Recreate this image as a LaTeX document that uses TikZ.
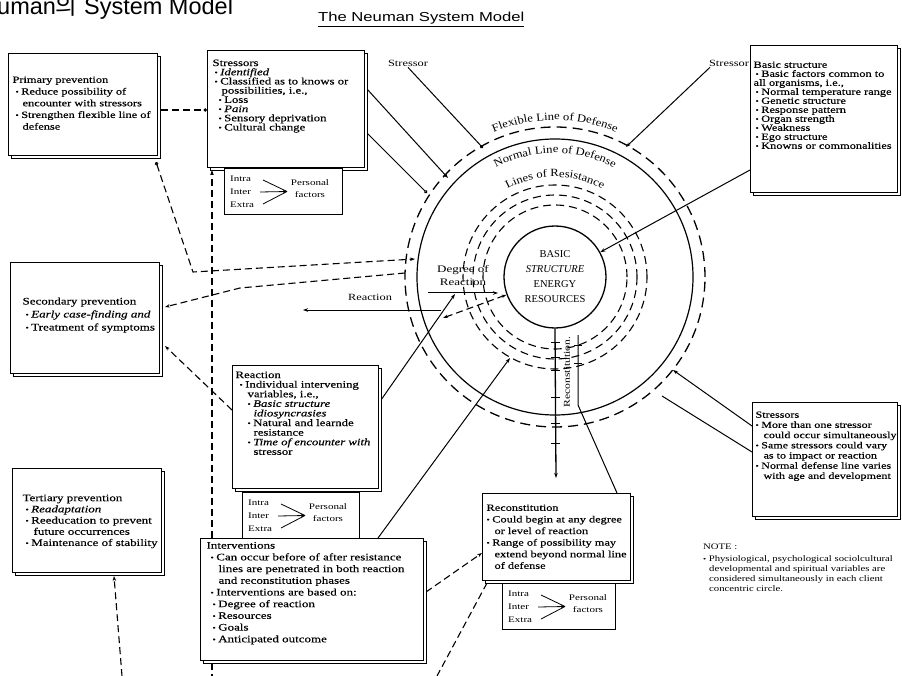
\documentclass[tikz,border=0pt]{standalone}
\usepackage{fontspec}
\setmainfont{Liberation Serif}
\newfontfamily\bxfont{Liberation Serif}[FakeStretch=1.3,FakeBold=0.35]
\newfontfamily\lbfont{Liberation Serif}[FakeStretch=1.3]
\newfontfamily\arcfont{Liberation Serif}[FakeStretch=1.15]
\newfontfamily\notefont{Liberation Serif}[FakeStretch=1.26]
\newfontfamily\ttlfont{Liberation Sans}
\newfontfamily\subfont{Liberation Sans}[FakeStretch=1.28]
\newfontfamily\krfont{Noto Sans CJK KR}
\usetikzlibrary{arrows.meta,shadows,decorations.text,calc}

\newcommand\mybul{\raisebox{0.5pt}{\fontsize{7}{7}\selectfont\textbullet}\hspace{2.5pt}}
% #1 width, #2 height, #3 top pad, #4 font size, #5 baselineskip, #6 left pad, #7 text
\newcommand\bxt[7]{\makebox[#1pt][l]{\parbox[c][#2pt][t]{320pt}{\vspace*{#3pt}\bxfont\fontsize{#4}{#5}\selectfont\lineskiplimit=-20pt\lineskip=0pt\raggedright\leftskip=#6pt\relax #7}}}

\tikzset{
  box/.style={draw, line width=1.1pt, fill=white, inner sep=0pt, anchor=north west,
    copy shadow={shadow xshift=3pt, shadow yshift=-3pt}},
  pfb/.style={draw, line width=0.9pt, fill=white, inner sep=0pt, anchor=north west, minimum height=46pt},
  pft/.style={inner sep=0pt, anchor=west, font=\lbfont\fontsize{8.5}{12}\selectfont},
  pfl/.style={line width=0.8pt},
  lbl/.style={inner sep=1pt, font=\lbfont\fontsize{9.5}{11}\selectfont},
  dcon/.style={line width=1.1pt, dash pattern=on 7pt off 4pt},
  scon/.style={line width=1pt},
  tipa/.style={-{Stealth[length=5pt,width=3.5pt]}},
  tipc/.style={-{Circle[open,length=3.5pt]}},
  flex/.style={line width=1.3pt, dash pattern=on 10pt off 6pt},
  norm/.style={line width=1.2pt},
  resi/.style={line width=1.1pt, dash pattern=on 8pt off 5pt},
  tick/.style={line width=0.8pt}
}

\newcommand\pfbox[4]{%
  \begin{scope}[shift={(#2,#3)}]
    \node[pfb, minimum width=#4pt] (#1) at (0,0) {};
    \node[pft] (#1i) at (6,11) {Intra};
    \node[pft] (#1n) at (6,24) {Inter};
    \node[pft] (#1e) at (6,37) {Extra};
    \node[pft, anchor=center, align=center] (#1p) at (86,21) {Personal\\factors};
    \coordinate (#1t) at (63,23.5);
    \draw[pfl] (39,12) -- (#1t);
    \draw[pfl,-{Stealth[length=4pt,width=3pt]}] (36,24) -- (#1t);
    \draw[pfl] (39,36) -- (#1t);
  \end{scope}}

\begin{document}
\begin{tikzpicture}[x=1pt, y=-1pt]
\useasboundingbox (0,0) rectangle (902,676);

% titles
\node[anchor=base west, inner sep=0] (title) at (-3,15)
  {\ttlfont\fontsize{23.5}{25}\selectfont uman{\krfont 의} System Model};
\node[anchor=base west, inner sep=0] (subtitle) at (318,22)
  {\subfont\fontsize{13}{14}\selectfont\underline{The Neuman System Model}};

% central circles
\node[circle, draw, line width=1.3pt, minimum size=102pt, inner sep=0pt, align=center,
  font=\fontsize{10.5}{15}\selectfont] (core) at (555,277)
  {BASIC\\\textit{STRUCTURE}\\ENERGY\\RESOURCES};
\draw[flex] (core.center) circle[radius=150pt];
\draw[norm] (core.center) circle[radius=138pt];
\draw[resi] (core.center) circle[radius=92pt];
\draw[resi] (core.center) circle[radius=82pt];
\draw[resi] (core.center) circle[radius=72pt];

\path[decorate, decoration={text along path, text align=center,
  text={|\arcfont\fontsize{11}{11}\selectfont|Flexible Line of Defense}}]
  ($(core.center)+(140:157pt)$) arc[start angle=140, end angle=40, radius=157pt];
\path[decorate, decoration={text along path, text align=center,
  text={|\arcfont\fontsize{11}{11}\selectfont|Normal Line of Defense}}]
  ($(core.center)+(145:124pt)$) arc[start angle=145, end angle=35, radius=124pt];
\path[decorate, decoration={text along path, text align=center,
  text={|\arcfont\fontsize{11}{11}\selectfont|Lines of Resistance}}]
  ($(core.center)+(150:100pt)$) arc[start angle=150, end angle=30, radius=100pt];

% labels
\node[lbl] (s1) at (408,63) {Stressor};
\node[lbl] (s2) at (729,63) {Stressor};
\node[lbl] (reactlbl) at (370,297) {Reaction};
\node[inner sep=0pt, align=center, font=\lbfont\fontsize{10}{13}\selectfont] (degree) at (463,276) {Degree of\\Reaction};
\node[inner sep=0pt, rotate=90, font=\lbfont\fontsize{9}{10}\selectfont] (reclbl) at (567,372) {Reconstitution.};

% coordinates for free ends
\coordinate (pA) at (448,178);
\coordinate (pB) at (427,193);
\coordinate (pS1) at (483,148);
\coordinate (pS2) at (626,147);
\coordinate (pC) at (673,370);
\coordinate (pD) at (662,396);
\coordinate (pPrimEnd) at (415,259);
\coordinate (pPrimBend) at (193,272);
\coordinate (pSecStart) at (405,273);
\coordinate (pSecBend) at (240,288);
\coordinate (pReacL) at (303,310);
\coordinate (pReacR) at (441,310);
\coordinate (pDegL) at (428,293);
\coordinate (pDegR) at (498,293);
\coordinate (pDash) at (443,318);
\coordinate (pReaEnd) at (455,294);
\coordinate (pIntEnd) at (510,358);
\coordinate (pRecArrow) at (556,478);
\coordinate (pRecBend) at (578,405);
\coordinate (pRecTop) at (578,335);
\coordinate (pBot1) at (437,676);
\coordinate (pBot2) at (122,676);
\coordinate (pBot3) at (212,676);

% solid connectors
\draw[scon, tipc] (s1.south) -- (pS1);
\draw[scon, tipa] ([xshift=2pt]s2.south west) -- (pS2);
\draw[scon, tipa] (367,89) -- (pA);
\draw[scon, tipc] (367,133) -- (pB);
\draw[scon, tipa] (750,170) -- (core);
\draw[scon, tipa] (752,426) -- (pC);
\draw[scon] (752,452) -- (pD);
\draw[scon, tipa] (pReacR) -- (pReacL);
\draw[scon, tipa] (pDegL) -- (pDegR);
\draw[scon, tipa] (381,400) -- (pReaEnd);
\draw[scon, tipa] (378,538) -- (pIntEnd);
\draw[scon, line width=1.3pt, tipa] (core.south) -- (pRecArrow);
\draw[scon] (617,493) -- (pRecBend) -- (pRecTop);
\foreach \yy in {342,357,370,397,423,443} \draw[tick] (551,\yy) -- (560,\yy);
\foreach \yy in {345,363} \draw[tick] (574,\yy) -- (582,\yy);

% dashed connectors
\draw[dcon, {Circle[open,length=3.5pt]}-{Stealth[length=5pt,width=3.5pt]}] (156,162) -- (pPrimBend) -- (pPrimEnd);
\draw[dcon, tipa] (pSecStart) -- (pSecBend) -- (165,307);
\draw[dcon, tipa] (232,410) -- (165,346);
\draw[dcon, {Stealth[length=5pt,width=3.5pt]}-{Stealth[length=5pt,width=3.5pt]}] (pDash) -- (core);
\draw[dcon, tipa] (212,538) -- (212,170);
\draw[dcon] (212,663) -- (pBot3);
\draw[dcon, tipa] (pBot2) -- (114,576);
\draw[dcon, tipa] (426,592) -- (482,553);
\draw[dcon] (487,583) -- (pBot1);

% boxes
\node[box] (prim) at (8,53) {\bxt{149}{102}{23}{9.5}{11.7}{4}{Primary prevention\\
\hspace*{3pt}\mybul Reduce possibility of\\
\hspace*{10pt}encounter with stressors\\
\hspace*{3pt}\mybul Strengthen flexible line of\\
\hspace*{10pt}defense}};
\draw[dcon, tipc] ([xshift=3pt]prim.east |- 0,110) -- (207,110);

\node[box] (str) at (207,50) {\bxt{157}{117}{9}{9.8}{9.2}{5}{Stressors\\
\hspace*{2pt}\mybul\textit{Identified}\\
\hspace*{2pt}\mybul Classified as to knows or\\
\hspace*{9pt}possibilities,\ i.e.,\\
\hspace*{6pt}\mybul Loss\\
\hspace*{6pt}\mybul\textit{Pain}\\
\hspace*{6pt}\mybul Sensory deprivation\\
\hspace*{6pt}\mybul Cultural change}};

\node[box] (bas) at (750,45) {\bxt{147}{147}{16}{9.5}{9}{3}{Basic structure\\
\hspace*{2pt}\mybul Basic factors common to\\
all organisms,\ i.e.,\\
\hspace*{2pt}\mybul Normal temperature range\\
\hspace*{2pt}\mybul Genetic structure\\
\hspace*{2pt}\mybul Response pattern\\
\hspace*{2pt}\mybul Organ strength\\
\hspace*{2pt}\mybul Weakness\\
\hspace*{2pt}\mybul Ego structure\\
\hspace*{2pt}\mybul Knowns or commonalities}};

\node[box] (sec) at (10,262) {\bxt{149}{111}{35}{10}{13}{12}{Secondary prevention\\
\hspace*{3pt}\mybul\textit{Early case-finding and}\\
\hspace*{3pt}\mybul Treatment of symptoms}};

\node[box] (rea) at (232,365) {\bxt{146}{123}{6}{9.8}{9.6}{3}{Reaction\\
\hspace*{4pt}\mybul Individual intervening\\
\hspace*{12pt}variables,\ i.e.,\\
\hspace*{12pt}\mybul\textit{Basic structure}\\
\hspace*{18pt}\textit{idiosyncrasies}\\
\hspace*{12pt}\mybul Natural and learnde\\
\hspace*{18pt}resistance\\
\hspace*{12pt}\mybul\textit{Time of encounter with}\\
\hspace*{18pt}stressor}};

\node[box] (ter) at (12,468) {\bxt{149}{104}{26}{10}{11.2}{10}{Tertiary prevention\\
\hspace*{3pt}\mybul\textit{Readaptation}\\
\hspace*{3pt}\mybul Reeducation to prevent\\
\hspace*{11pt}future occurrences\\
\hspace*{3pt}\mybul Maintenance of stability}};

\node[box] (int) at (200,538) {\bxt{223}{122}{3.5}{10}{11.7}{6}{Interventions\\
\hspace*{4pt}\mybul Can occur before of after resistance\\
\hspace*{12pt}lines are penetrated in both reaction\\
\hspace*{12pt}and reconstitution phases\\
\hspace*{4pt}\mybul Interventions are based on:\\
\hspace*{6pt}\mybul Degree of reaction\\
\hspace*{6pt}\mybul Resources\\
\hspace*{6pt}\mybul Goals\\
\hspace*{6pt}\mybul Anticipated outcome}};

\node[box] (rec) at (482,493) {\bxt{148}{87}{11}{9.5}{11.6}{4}{Reconstitution\\
\mybul Could begin at any degree\\
\hspace*{8pt}or level of reaction\\
\mybul Range of possibility may\\
\hspace*{8pt}extend beyond normal line\\
\hspace*{8pt}of defense}};

\node[box] (str2) at (752,402) {\bxt{145}{114}{9}{9.3}{10.2}{3}{Stressors\\
\mybul More than one stressor\\
\hspace*{8pt}could occur simultaneously\\
\mybul Same stressors could vary\\
\hspace*{8pt}as to impact or reaction\\
\mybul Normal defense line varies\\
\hspace*{8pt}with age and development}};

% personal factor boxes
\pfbox{pfa}{224}{168}{118}
\pfbox{pfb}{242}{492}{117}
\pfbox{pfc}{502}{583}{113}

% note
\node[anchor=north west, inner sep=0pt, align=left, font=\notefont\fontsize{8.5}{10}\selectfont] (note) at (703,544)
  {NOTE :\\[2pt]
  \mybul Physiological, psychological sociolcultural\\
  \hspace*{6pt}developmental and spiritual variables are\\
  \hspace*{6pt}considered simultaneously in each client\\
  \hspace*{6pt}concentric circle.};
\end{tikzpicture}
\end{document}
